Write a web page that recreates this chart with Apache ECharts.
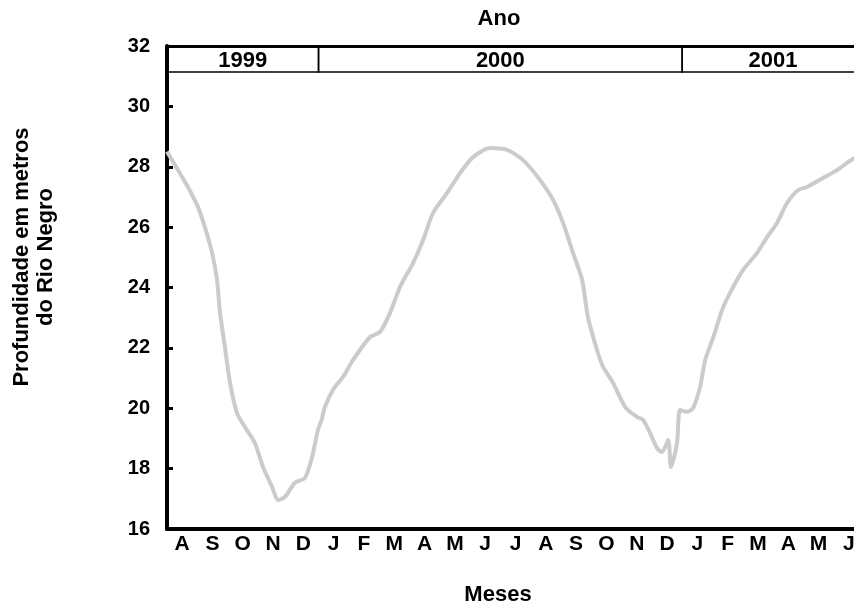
<!DOCTYPE html>
<html>
<head>
<meta charset="utf-8">
<script src="https://cdn.jsdelivr.net/npm/echarts@6/dist/echarts.min.js"></script>
<style>
  html,body{margin:0;padding:0;background:#fff;overflow:hidden;}
  /* plot runs past the right edge in the original, so the canvas is a bit wider than the window */
  #chart{width:864px;height:607px;}
</style>
</head>
<body>
<div id="chart"></div>
<script>
// month labels, Aug 1999 .. Jun 2001
const months = ["A","S","O","N","D","J","F","M","A","M","J","J","A","S","O","N","D","J","F","M","A","M","J"];
const yearLabels = ["1999","2000","2001"];
const yearStart = [0, 5, 17];
const yearEnd = [5, 17, 23];

// river depth, x in months since 1 Aug 1999
const monthPos = [0, 0.36, 0.69, 1.02, 1.25, 1.49, 1.65, 1.75, 1.91, 2.08, 2.31, 2.57, 2.90, 3.17, 3.47, 3.66,
  3.89, 4.22, 4.55, 4.79, 4.98, 5.10, 5.21, 5.50, 5.81, 6.14, 6.70, 7.03, 7.36, 7.69, 8.12, 8.45, 8.78,
  9.24, 9.67, 10.10, 10.66, 11.22, 11.75, 12.31, 12.74, 13.07, 13.40, 13.70, 13.89, 14.19, 14.39, 14.72,
  15.12, 15.51, 15.71, 15.94, 16.17, 16.34, 16.54, 16.63, 16.83, 16.93, 17.16, 17.36, 17.59, 17.76,
  18.03, 18.32, 18.58, 19.01, 19.47, 19.80, 20.13, 20.46, 20.83, 21.12, 21.65, 22.11, 22.48, 22.70];
const depth = [28.5, 27.9, 27.33, 26.67, 26.0, 25.14, 24.25, 23.16, 22.03, 20.84, 19.84, 19.38, 18.85, 18.05, 17.39, 16.96,
  17.06, 17.53, 17.69, 18.39, 19.28, 19.61, 20.04, 20.65, 21.04, 21.6, 22.36, 22.53, 23.16, 24.02, 24.81, 25.57, 26.47,
  27.13, 27.79, 28.32, 28.62, 28.56, 28.22, 27.56, 26.9, 26.14, 25.14, 24.25, 23.02, 21.93, 21.37, 20.84,
  20.04, 19.71, 19.61, 19.18, 18.68, 18.55, 18.95, 18.05, 18.85, 19.94, 19.88, 20.01, 20.7, 21.6,
  22.36, 23.26, 23.82, 24.58, 25.14, 25.67, 26.14, 26.8, 27.23, 27.33, 27.63, 27.89, 28.16, 28.3];

const FONT = "'Liberation Sans', Arial, sans-serif";
const chart = echarts.init(document.getElementById("chart"));

const G = {left:167, top:46, right:0};

chart.setOption({
  backgroundColor:"#fff",
  animation:false,
  grid:[
    {left:G.left, top:G.top, right:G.right, height:483},
    {left:G.left, top:G.top, right:G.right, height:26}
  ],
  xAxis:[
    { type:"category", data:months, gridIndex:0, boundaryGap:true,
      axisLine:{lineStyle:{color:"#000", width:4}},
      axisTick:{inside:true, length:6, lineStyle:{color:"#000", width:3}},
      axisLabel:{color:"#000", fontWeight:"bold", fontSize:21, fontFamily:FONT, margin:5},
      splitLine:{show:false} },
    { type:"value", gridIndex:0, min:0, max:23, position:"top",
      axisLine:{show:true, onZero:false, lineStyle:{color:"#000", width:3}},
      axisTick:{show:false}, axisLabel:{show:false}, splitLine:{show:false} },
    { type:"value", gridIndex:1, min:0, max:23, show:false }
  ],
  yAxis:[
    { type:"value", gridIndex:0, min:16, max:32, interval:2,
      axisLine:{show:true, lineStyle:{color:"#000", width:4}},
      axisTick:{show:true, inside:true, length:6, lineStyle:{color:"#000", width:3}},
      axisLabel:{color:"#000", fontWeight:"bold", fontSize:20, fontFamily:FONT, margin:17},
      splitLine:{show:false} },
    { type:"value", gridIndex:1, min:0, max:1, show:false }
  ],
  graphic:[
    { type:"text", x:499, y:19, style:{text:"Ano", font:"bold 22px "+FONT, fill:"#000", align:"center", verticalAlign:"middle"} },
    { type:"text", x:498, y:595, style:{text:"Meses", font:"bold 22px "+FONT, fill:"#000", align:"center", verticalAlign:"middle"} },
    { type:"text", x:34, y:257, rotation:Math.PI/2,
      style:{text:"Profundidade em metros\ndo Rio Negro", font:"bold 22px "+FONT, lineHeight:24, fill:"#000", align:"center", verticalAlign:"middle"} }
  ],
  series:[
    { type:"line", xAxisIndex:1, yAxisIndex:0, showSymbol:false, smooth:0.25,
      lineStyle:{color:"#cbcbcb", width:4},
      data: monthPos.map((m,i)=>[m, depth[i]]) },
    { type:"custom", xAxisIndex:2, yAxisIndex:1, silent:true,
      data: yearLabels.map((y,i)=>[yearStart[i], yearEnd[i], y]),
      renderItem:(params, api)=>{
        const p0 = api.coord([api.value(0), 1]);
        const p1 = api.coord([api.value(1), 0]);
        return { type:"group", children:[
          { type:"rect", shape:{x:p0[0], y:p0[1], width:p1[0]-p0[0], height:p1[1]-p0[1]},
            style:{fill:null, stroke:"#000", lineWidth:1.5} },
          { type:"text", x:(p0[0]+p1[0])/2, y:(p0[1]+p1[1])/2 + 2,
            style:{text:yearLabels[params.dataIndex], font:"bold 22px "+FONT, fill:"#000", align:"center", verticalAlign:"middle"} }
        ]};
      } }
  ]
});
</script>
</body>
</html>
